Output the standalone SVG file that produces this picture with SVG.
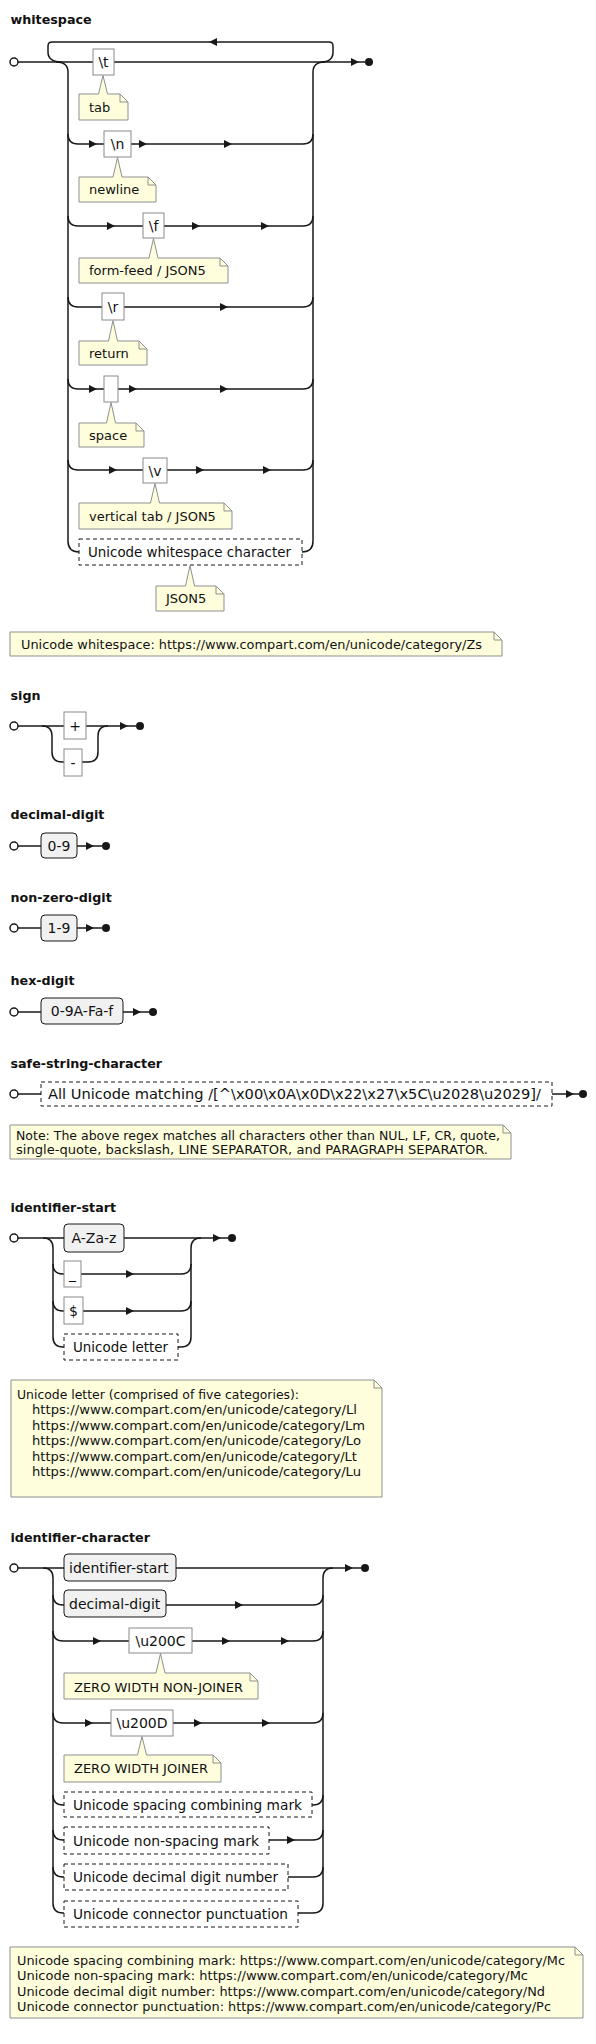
<svg xmlns="http://www.w3.org/2000/svg" width="596" height="2044" viewBox="0 0 596 2044">
<style>
text{font-family:"DejaVu Sans","Liberation Sans",sans-serif;fill:#111}
.t{font-weight:bold;font-size:12.7px}
.l{font-size:14px}
.n{font-size:13px}
.c{text-anchor:middle}
.ln{fill:none;stroke:#181818;stroke-width:1.5}
.term{fill:#fff;stroke:#8a8a8a;stroke-width:1}
.nt{fill:#f1f1f1;stroke:#181818;stroke-width:1}
.sp{fill:#fff;stroke:#181818;stroke-width:1;stroke-dasharray:4 3}
.note{fill:#fefedd;stroke:#8f8f8f;stroke-width:1}
.fold{fill:none;stroke:#8f8f8f;stroke-width:1}
.st{fill:#fff;stroke:#181818;stroke-width:1.5}
.en{fill:#181818}
.ar{fill:#181818}
</style>
<defs>
<path id="ar" d="M-8,-4 L0,0 L-8,4 Z"/>
<path id="al" d="M8,-4 L0,0 L8,4 Z"/>
</defs>

<g id="titles">
<text class="t" x="10.5" y="24">whitespace</text>
<text class="t" x="10.5" y="700">sign</text>
<text class="t" x="10.5" y="819">decimal-digit</text>
<text class="t" x="10.5" y="902">non-zero-digit</text>
<text class="t" x="10.5" y="985">hex-digit</text>
<text class="t" x="10.5" y="1068">safe-string-character</text>
<text class="t" x="10.5" y="1212">identifier-start</text>
<text class="t" x="10.5" y="1542">identifier-character</text>
</g>

<g id="connectors">
<path class="ln" d="M18,62 H365"/>
<path class="ln" d="M62,62 Q48,62 48,52 V46 Q48,42 52,42 H329 Q333,42 333,46 V52 Q333,62 321,62"/>
<path class="ln" d="M56,62 Q68,62 68,72 V541 Q68,552 79,552"/>
<path class="ln" d="M302,552 Q313,552 313,541 V72 Q313,62 325,62"/>
<path class="ln" d="M68,134 Q68,144 78,144 H303 Q313,144 313,134"/>
<path class="ln" d="M68,216 Q68,226 78,226 H303 Q313,226 313,216"/>
<path class="ln" d="M68,297 Q68,307 78,307 H303 Q313,307 313,297"/>
<path class="ln" d="M68,379 Q68,389 78,389 H303 Q313,389 313,379"/>
<path class="ln" d="M68,460 Q68,470 78,470 H303 Q313,470 313,460"/>
<use href="#ar" class="ar" x="359" y="62"/>
<use href="#al" class="ar" x="209" y="42"/>
<use href="#ar" class="ar" x="97" y="144"/>
<use href="#ar" class="ar" x="147" y="144"/>
<use href="#ar" class="ar" x="232" y="144"/>
<use href="#ar" class="ar" x="115" y="226"/>
<use href="#ar" class="ar" x="200" y="226"/>
<use href="#ar" class="ar" x="269" y="226"/>
<use href="#ar" class="ar" x="228" y="307"/>
<use href="#ar" class="ar" x="97" y="389"/>
<use href="#ar" class="ar" x="137" y="389"/>
<use href="#ar" class="ar" x="228" y="389"/>
<use href="#ar" class="ar" x="117" y="470"/>
<use href="#ar" class="ar" x="204" y="470"/>
<use href="#ar" class="ar" x="271" y="470"/>
<path class="ln" d="M18,726 H136"/>
<path class="ln" d="M42,726 Q52,726 52,736 V752 Q52,762 62,762 H88 Q98,762 98,752 V736 Q98,726 108,726"/>
<use href="#ar" class="ar" x="128" y="726"/>
<path class="ln" d="M18,846 H102"/>
<use href="#ar" class="ar" x="94" y="846"/>
<path class="ln" d="M18,928 H102"/>
<use href="#ar" class="ar" x="94" y="928"/>
<path class="ln" d="M18,1012 H149"/>
<use href="#ar" class="ar" x="141" y="1012"/>
<path class="ln" d="M18,1094 H579"/>
<use href="#ar" class="ar" x="574" y="1094"/>
<path class="ln" d="M18,1238 H228"/>
<path class="ln" d="M43,1238 Q53,1238 53,1248 V1337 Q53,1347 63,1347 H65"/>
<path class="ln" d="M53,1264 Q53,1274 63,1274 H181 Q191,1274 191,1264"/>
<path class="ln" d="M53,1301 Q53,1311 63,1311 H181 Q191,1311 191,1301"/>
<path class="ln" d="M177,1347 H181 Q191,1347 191,1337 V1248 Q191,1238 201,1238"/>
<use href="#ar" class="ar" x="221" y="1238"/>
<use href="#ar" class="ar" x="134" y="1274"/>
<use href="#ar" class="ar" x="134" y="1311"/>
<path class="ln" d="M18,1568 H361"/>
<path class="ln" d="M43,1568 Q53,1568 53,1578 V1903 Q53,1913 63,1913 H65"/>
<path class="ln" d="M297,1913 H313 Q323,1913 323,1903 V1578 Q323,1568 333,1568"/>
<path class="ln" d="M53,1595 Q53,1605 63,1605 H313 Q323,1605 323,1595"/>
<path class="ln" d="M53,1631 Q53,1641 63,1641 H313 Q323,1641 323,1631"/>
<path class="ln" d="M53,1713 Q53,1723 63,1723 H313 Q323,1723 323,1713"/>
<path class="ln" d="M53,1795 Q53,1805 63,1805 H65 M311,1805 H313 Q323,1805 323,1795"/>
<path class="ln" d="M53,1830 Q53,1840 63,1840 H65 M268,1840 H313 Q323,1840 323,1830"/>
<path class="ln" d="M53,1867 Q53,1877 63,1877 H65 M287,1877 H313 Q323,1877 323,1867"/>
<use href="#ar" class="ar" x="353" y="1568"/>
<use href="#ar" class="ar" x="243" y="1605"/>
<use href="#ar" class="ar" x="101" y="1641"/>
<use href="#ar" class="ar" x="230" y="1641"/>
<use href="#ar" class="ar" x="289" y="1641"/>
<use href="#ar" class="ar" x="93" y="1723"/>
<use href="#ar" class="ar" x="202" y="1723"/>
<use href="#ar" class="ar" x="270" y="1723"/>
<use href="#ar" class="ar" x="295" y="1840"/>
</g>

<g id="terminals">
<circle class="st" cx="14" cy="62" r="4"/><circle class="en" cx="369" cy="62" r="4"/>
<circle class="st" cx="14" cy="726" r="4"/><circle class="en" cx="140" cy="726" r="4"/>
<circle class="st" cx="14" cy="846" r="4"/><circle class="en" cx="106" cy="846" r="4"/>
<circle class="st" cx="14" cy="928" r="4"/><circle class="en" cx="106" cy="928" r="4"/>
<circle class="st" cx="14" cy="1012" r="4"/><circle class="en" cx="153" cy="1012" r="4"/>
<circle class="st" cx="14" cy="1094" r="4"/><circle class="en" cx="583" cy="1094" r="4"/>
<circle class="st" cx="14" cy="1238" r="4"/><circle class="en" cx="232" cy="1238" r="4"/>
<circle class="st" cx="14" cy="1568" r="4"/><circle class="en" cx="365" cy="1568" r="4"/>
</g>

<g id="ws-tab"><rect class="term" x="93" y="49" width="21" height="26"/><text class="l c" x="103.5" y="67">\t</text></g>
<g id="ws-nl"><rect class="term" x="104" y="131" width="27" height="26"/><text class="l c" x="117.5" y="149">\n</text></g>
<g id="ws-ff"><rect class="term" x="143" y="213" width="21" height="25"/><text class="l c" x="153.5" y="230.5">\f</text></g>
<g id="ws-cr"><rect class="term" x="102" y="293" width="22" height="27"/><text class="l c" x="113" y="311.5">\r</text></g>
<g id="ws-sp"><rect class="term" x="104" y="376" width="14" height="26"/></g>
<g id="ws-vt"><rect class="term" x="143" y="458" width="24" height="25"/><text class="l c" x="155" y="475.5">\v</text></g>
<g id="ws-uni"><rect class="sp" x="79" y="539" width="223" height="26"/><text class="l" x="88" y="557" textLength="203" lengthAdjust="spacingAndGlyphs">Unicode whitespace character</text></g>

<g id="note-tab"><path class="note" d="M79,94 H98.5 L103,75.5 L107.5,94 H120 L128,102 V120 H79 Z"/><path class="fold" d="M120,94 V102 H128"/><text class="n" x="89" y="111.5">tab</text></g>
<g id="note-nl"><path class="note" d="M79,177 H113 L117.5,157.5 L122,177 H148 L156,185 V202 H79 Z"/><path class="fold" d="M148,177 V185 H156"/><text class="n" x="89" y="194">newline</text></g>
<g id="note-ff"><path class="note" d="M79,258 H149 L153.5,238.5 L158,258 H220 L228,266 V283 H79 Z"/><path class="fold" d="M220,258 V266 H228"/><text class="n" x="89" y="275">form-feed / JSON5</text></g>
<g id="note-cr"><path class="note" d="M79,341 H108.5 L113,320.5 L117.5,341 H139 L147,349 V365 H79 Z"/><path class="fold" d="M139,341 V349 H147"/><text class="n" x="89" y="357.5">return</text></g>
<g id="note-sp"><path class="note" d="M79,423 H106.5 L111,402.5 L115.5,423 H136 L144,431 V447 H79 Z"/><path class="fold" d="M136,423 V431 H144"/><text class="n" x="89" y="439.5">space</text></g>
<g id="note-vt"><path class="note" d="M79,503 H150.5 L155,483.5 L159.5,503 H224 L232,511 V529 H79 Z"/><path class="fold" d="M224,503 V511 H232"/><text class="n" x="89" y="520.5">vertical tab / JSON5</text></g>
<g id="note-json5"><path class="note" d="M156,586 H185.5 L190,565.5 L194.5,586 H216 L224,594 V611 H156 Z"/><path class="fold" d="M216,586 V594 H224"/><text class="n" x="166" y="603">JSON5</text></g>
<g id="note-zs"><path class="note" d="M10,632 H494 L502,640 V656 H10 Z"/><path class="fold" d="M494,632 V640 H502"/><text class="n" x="21" y="648.5" textLength="461" lengthAdjust="spacingAndGlyphs">Unicode whitespace: https://www.compart.com/en/unicode/category/Zs</text></g>

<g id="sign-plus"><rect class="term" x="64" y="712" width="22" height="27"/><text class="l c" x="75" y="730.5">+</text></g>
<g id="sign-minus"><rect class="term" x="64" y="749" width="18" height="27"/><text class="l c" x="73" y="767.5">-</text></g>

<g id="dd"><rect class="nt" x="41" y="833" width="36" height="25" rx="4"/><text class="l c" x="59" y="850.5">0-9</text></g>
<g id="nzd"><rect class="nt" x="41" y="915" width="36" height="26" rx="4"/><text class="l c" x="59" y="933">1-9</text></g>
<g id="hd"><rect class="nt" x="41" y="998" width="82" height="26" rx="4"/><text class="l c" x="82" y="1016">0-9A-Fa-f</text></g>

<g id="ssc"><rect class="sp" x="41" y="1082" width="511" height="24"/><text class="l" x="48" y="1099" textLength="493" lengthAdjust="spacingAndGlyphs">All Unicode matching /[^\x00\x0A\x0D\x22\x27\x5C\u2028\u2029]/</text></g>
<g id="note-ssc"><path class="note" d="M10,1125 H503 L511,1133 V1159 H10 Z"/><path class="fold" d="M503,1125 V1133 H511"/>
<text class="n" x="16" y="1139.5" textLength="484" lengthAdjust="spacingAndGlyphs">Note: The above regex matches all characters other than NUL, LF, CR, quote,</text>
<text class="n" x="16" y="1154" textLength="472" lengthAdjust="spacingAndGlyphs">single-quote, backslash, LINE SEPARATOR, and PARAGRAPH SEPARATOR.</text></g>

<g id="is-az"><rect class="nt" x="64" y="1224" width="60" height="28" rx="4"/><text class="l c" x="94" y="1243">A-Za-z</text></g>
<g id="is-us"><rect class="term" x="64" y="1261" width="17" height="26"/><text class="l c" x="72.5" y="1279">_</text></g>
<g id="is-dol"><rect class="term" x="64" y="1297" width="19" height="27"/><text class="l c" x="73.5" y="1315.5">$</text></g>
<g id="is-ul"><rect class="sp" x="64" y="1334" width="114" height="26"/><text class="l" x="73" y="1352" textLength="95" lengthAdjust="spacingAndGlyphs">Unicode letter</text></g>
<g id="note-ul"><path class="note" d="M11,1380 H374 L382,1388 V1497 H11 Z"/><path class="fold" d="M374,1380 V1388 H382"/>
<text class="n" x="17" y="1398.5" textLength="282" lengthAdjust="spacingAndGlyphs">Unicode letter (comprised of five categories):</text>
<text class="n" x="32" y="1414" textLength="325" lengthAdjust="spacingAndGlyphs">https://www.compart.com/en/unicode/category/Ll</text>
<text class="n" x="32" y="1429.5" textLength="333" lengthAdjust="spacingAndGlyphs">https://www.compart.com/en/unicode/category/Lm</text>
<text class="n" x="32" y="1445" textLength="329" lengthAdjust="spacingAndGlyphs">https://www.compart.com/en/unicode/category/Lo</text>
<text class="n" x="32" y="1460.5" textLength="325" lengthAdjust="spacingAndGlyphs">https://www.compart.com/en/unicode/category/Lt</text>
<text class="n" x="32" y="1476" textLength="329" lengthAdjust="spacingAndGlyphs">https://www.compart.com/en/unicode/category/Lu</text></g>

<g id="ic-start"><rect class="nt" x="64" y="1554" width="112" height="27" rx="4"/><text class="l" x="69" y="1572.5">identifier-start</text></g>
<g id="ic-dd"><rect class="nt" x="64" y="1590" width="102" height="27" rx="4"/><text class="l" x="69" y="1608.5">decimal-digit</text></g>
<g id="ic-zwnj"><rect class="term" x="129" y="1628" width="63" height="25"/><text class="l c" x="160.5" y="1645.5">\u200C</text></g>
<g id="note-zwnj"><path class="note" d="M64,1673 H156 L160.5,1653.5 L165,1673 H250 L258,1681 V1699 H64 Z"/><path class="fold" d="M250,1673 V1681 H258"/><text class="n" x="74" y="1691.5">ZERO WIDTH NON-JOINER</text></g>
<g id="ic-zwj"><rect class="term" x="111" y="1710" width="62" height="26"/><text class="l c" x="142" y="1728">\u200D</text></g>
<g id="note-zwj"><path class="note" d="M64,1755 H137.5 L142,1736.5 L146.5,1755 H213 L221,1763 V1782 H64 Z"/><path class="fold" d="M213,1755 V1763 H221"/><text class="n" x="74" y="1773">ZERO WIDTH JOINER</text></g>
<g id="ic-mc"><rect class="sp" x="64" y="1792" width="248" height="25"/><text class="l" x="73" y="1809.5" textLength="229" lengthAdjust="spacingAndGlyphs">Unicode spacing combining mark</text></g>
<g id="ic-mn"><rect class="sp" x="64" y="1827" width="205" height="27"/><text class="l" x="73" y="1845.5" textLength="186" lengthAdjust="spacingAndGlyphs">Unicode non-spacing mark</text></g>
<g id="ic-nd"><rect class="sp" x="64" y="1864" width="224" height="26"/><text class="l" x="73" y="1882" textLength="205" lengthAdjust="spacingAndGlyphs">Unicode decimal digit number</text></g>
<g id="ic-pc"><rect class="sp" x="64" y="1901" width="234" height="26"/><text class="l" x="73" y="1919" textLength="215" lengthAdjust="spacingAndGlyphs">Unicode connector punctuation</text></g>
<g id="note-ic"><path class="note" d="M10,1947 H575 L583,1955 V2018 H10 Z"/><path class="fold" d="M575,1947 V1955 H583"/>
<text class="n" x="17" y="1964.5" textLength="548" lengthAdjust="spacingAndGlyphs">Unicode spacing combining mark: https://www.compart.com/en/unicode/category/Mc</text>
<text class="n" x="17" y="1980" textLength="511" lengthAdjust="spacingAndGlyphs">Unicode non-spacing mark: https://www.compart.com/en/unicode/category/Mc</text>
<text class="n" x="17" y="1995.5" textLength="528" lengthAdjust="spacingAndGlyphs">Unicode decimal digit number: https://www.compart.com/en/unicode/category/Nd</text>
<text class="n" x="17" y="2011" textLength="534" lengthAdjust="spacingAndGlyphs">Unicode connector punctuation: https://www.compart.com/en/unicode/category/Pc</text></g>
</svg>
